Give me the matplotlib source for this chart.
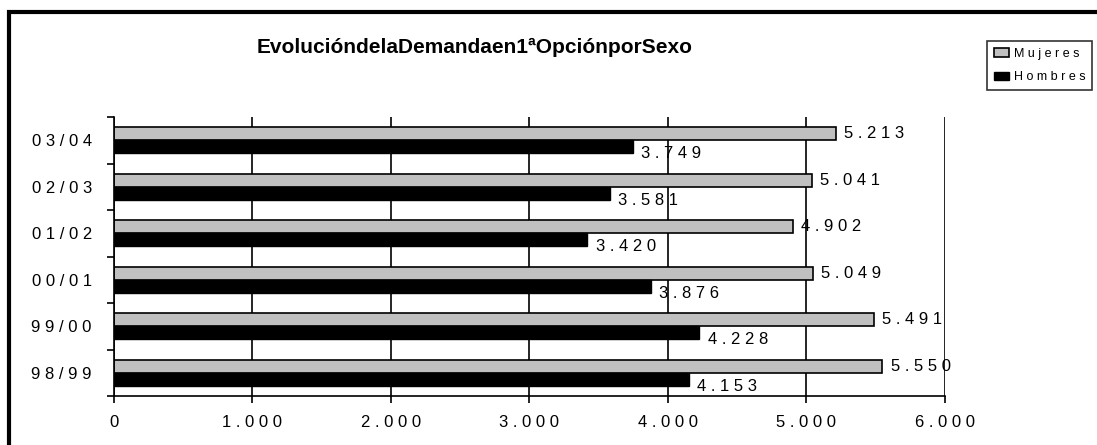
import matplotlib.pyplot as plt
from matplotlib.patches import Rectangle, Patch

plt.rcParams['font.family'] = ['Liberation Sans', 'DejaVu Sans']

cursos = ['98/99', '99/00', '00/01', '01/02', '02/03', '03/04']
mujeres = [5550, 5491, 5049, 4902, 5041, 5213]
hombres = [4153, 4228, 3876, 3420, 3581, 3749]
xticks = [0, 1000, 2000, 3000, 4000, 5000, 6000]


def espaciado(s):
    # imita el espaciado de letras del grafico original
    return ' '.join(s)


def miles(v):
    return f"{v:,}".replace(',', '.')


fig = plt.figure(figsize=(10.97, 4.45), dpi=100)
ax = fig.add_axes([0.104, 0.110, 0.757, 0.627])

y = list(range(len(cursos)))
h = 0.28
ax.barh([i + h / 2 for i in y], mujeres, height=h, color='#c0c0c0',
        edgecolor='black', linewidth=1.2)
ax.barh([i - h / 2 for i in y], hombres, height=h, color='black',
        edgecolor='black', linewidth=1.0)

for i in y:
    ax.annotate(espaciado(miles(mujeres[i])), (mujeres[i], i + h / 2),
                xytext=(6, 0), textcoords='offset points',
                va='center', ha='left', fontsize=12)
    ax.annotate(espaciado(miles(hombres[i])), (hombres[i], i - h / 2),
                xytext=(6, -5), textcoords='offset points',
                va='center', ha='left', fontsize=12)

ax.set_xlim(0, 6000)
ax.set_ylim(-0.5, len(cursos) - 0.5)
ax.set_xticks(xticks)
ax.set_xticklabels([espaciado(miles(v)) for v in xticks], fontsize=12)
ax.grid(axis='x', color='black', linewidth=1.2)
ax.set_axisbelow(True)

ax.set_yticks([i - 0.5 for i in range(len(cursos) + 1)])
ax.set_yticklabels([])
ax.set_yticks(y, minor=True)
ax.set_yticklabels([espaciado(c) for c in cursos], minor=True, fontsize=12)
ax.tick_params(axis='y', which='minor', length=0, pad=16)
ax.tick_params(axis='y', which='major', length=5, width=1.2)
ax.tick_params(axis='x', length=5, width=1.2, pad=9)

for s in ['top', 'right']:
    ax.spines[s].set_visible(False)
for s in ['left', 'bottom']:
    ax.spines[s].set_linewidth(1.2)

fig.text(475 / 1097, 1 - 47 / 445, 'EvolucióndelaDemandaen1ªOpciónporSexo',
         ha='center', va='center', fontsize=15, fontweight='bold',
         family=['Liberation Sans Narrow', 'Liberation Sans', 'DejaVu Sans'])

handles = [Patch(facecolor='#c0c0c0', edgecolor='black', linewidth=1.2),
           Patch(facecolor='black', edgecolor='black')]
leg = fig.legend(handles, [espaciado('Mujeres'), espaciado('Hombres')],
                 loc='upper left', bbox_to_anchor=(987 / 1097, 1 - 41 / 445),
                 fontsize=9, frameon=True, fancybox=False, borderpad=0.55,
                 handlelength=1.2, handleheight=0.65, handletextpad=0.4,
                 labelspacing=0.9, borderaxespad=0)
leg.get_frame().set_edgecolor('black')
leg.get_frame().set_linewidth(1.2)

# marco exterior del grafico
fig.patches.append(Rectangle((9 / 1097, -0.05), 1.1, 1 - 12 / 445 + 0.05,
                             transform=fig.transFigure, fill=False,
                             edgecolor='black', linewidth=3))

fig.savefig('out.png', dpi=100)
